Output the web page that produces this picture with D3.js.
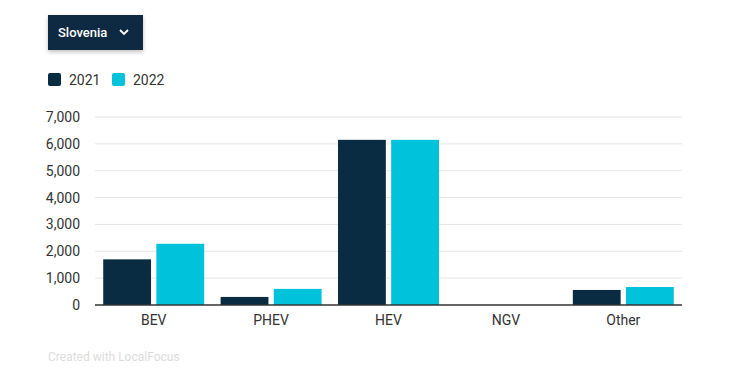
<!DOCTYPE html>
<html>
<head>
<meta charset="utf-8">
<script src="https://cdn.jsdelivr.net/npm/d3@7/dist/d3.min.js"></script>
<style>
  body { margin: 0; background: #fff; font-family: Roboto, sans-serif; }
  svg { display: block; }
</style>
</head>
<body>
<div id="chart"></div>
<script>
var categories = ["BEV", "PHEV", "HEV", "NGV", "Other"];
var years = ["2021", "2022"];
var values2021 = [1700, 300, 6150, 0, 560];
var values2022 = [2280, 600, 6150, 0, 670];
var yTicks = [0, 1000, 2000, 3000, 4000, 5000, 6000, 7000];

var w = 750, h = 385;
var margin = { left: 95, right: 68, top: 117, bottom: 80 };
var color = d3.scaleOrdinal().domain(years).range(["#0a2c42", "#00c2db"]);

var data = categories.map(function(c, i) {
    return { cat: c, vals: [values2021[i], values2022[i]] };
});

var svg = d3.select("#chart").append("svg")
    .attr("width", w)
    .attr("height", h);

var defs = svg.append("defs");
var f = defs.append("filter").attr("id", "shadow")
    .attr("x", "-20%").attr("y", "-20%").attr("width", "140%").attr("height", "160%");
f.append("feDropShadow").attr("dx", 0).attr("dy", 2).attr("stdDeviation", 2)
    .attr("flood-color", "#000").attr("flood-opacity", 0.25);

// dropdown button
var dd = svg.append("g").attr("transform", "translate(48,15)");
dd.append("rect").attr("width", 95).attr("height", 35)
    .attr("fill", "#0a2c42").attr("filter", "url(#shadow)");
dd.append("text").attr("x", 10).attr("y", 22)
    .attr("fill", "#fff").style("font-size", "13px").style("font-weight", 500)
    .text("Slovenia");
dd.append("path").attr("d", "M72,15 L76,19 L80,15")
    .attr("fill", "none").attr("stroke", "#fff").attr("stroke-width", 1.8);

// legend
var legend = svg.append("g").attr("transform", "translate(48,73)");
var li = legend.selectAll("g").data(years).enter().append("g")
    .attr("transform", function(d, i) { return "translate(" + (i * 64) + ",0)"; });
li.append("rect").attr("width", 13).attr("height", 13).attr("rx", 2)
    .attr("fill", function(d) { return color(d); });
li.append("text").attr("x", 21).attr("y", 12)
    .attr("fill", "#333").style("font-size", "14px")
    .text(function(d) { return d; });

var x = d3.scaleBand().domain(categories)
    .range([margin.left, w - margin.right])
    .paddingInner(0.14).paddingOuter(0.07);
var x1 = d3.scaleBand().domain(years).range([0, x.bandwidth()]).paddingInner(0.1);
var y = d3.scaleLinear().domain([0, 7000]).range([h - margin.bottom, margin.top]);

// grid
svg.append("g").selectAll("line").data(yTicks.slice(1)).enter().append("line")
    .attr("x1", margin.left).attr("x2", w - margin.right)
    .attr("y1", function(d) { return y(d); }).attr("y2", function(d) { return y(d); })
    .attr("stroke", "#e6e6e6").attr("stroke-width", 1);

// y axis labels
var yAxis = svg.append("g").attr("transform", "translate(" + (margin.left - 12) + ",0)")
    .call(d3.axisLeft(y).tickValues(yTicks).tickSize(0).tickFormat(d3.format(",")));
yAxis.select(".domain").remove();
yAxis.selectAll("text").attr("fill", "#333").style("font-size", "14px")
    .style("font-family", "Roboto, sans-serif");

// bars
var groups = svg.append("g").selectAll("g").data(data).enter().append("g")
    .attr("transform", function(d) { return "translate(" + x(d.cat) + ",0)"; });
groups.selectAll("rect").data(function(d) {
        return d.vals.map(function(v, i) { return { year: years[i], v: v }; });
    }).enter().append("rect")
    .attr("x", function(d) { return x1(d.year); })
    .attr("width", x1.bandwidth())
    .attr("y", function(d) { return y(d.v); })
    .attr("height", function(d) { return y(0) - y(d.v); })
    .attr("fill", function(d) { return color(d.year); });

// x axis
var xAxis = svg.append("g").attr("transform", "translate(0," + y(0) + ")")
    .call(d3.axisBottom(x).tickSize(0).tickPadding(10));
xAxis.select(".domain").attr("stroke", "#333").attr("stroke-width", 1.3)
    .attr("d", "M" + margin.left + ",0H" + (w - margin.right));
xAxis.selectAll("text").attr("fill", "#333").style("font-size", "14px")
    .style("font-family", "Roboto, sans-serif");

// footer
svg.append("text").attr("x", 48).attr("y", 361)
    .attr("fill", "#dcdcdc").style("font-size", "12px")
    .text("Created with LocalFocus");
</script>
</body>
</html>
